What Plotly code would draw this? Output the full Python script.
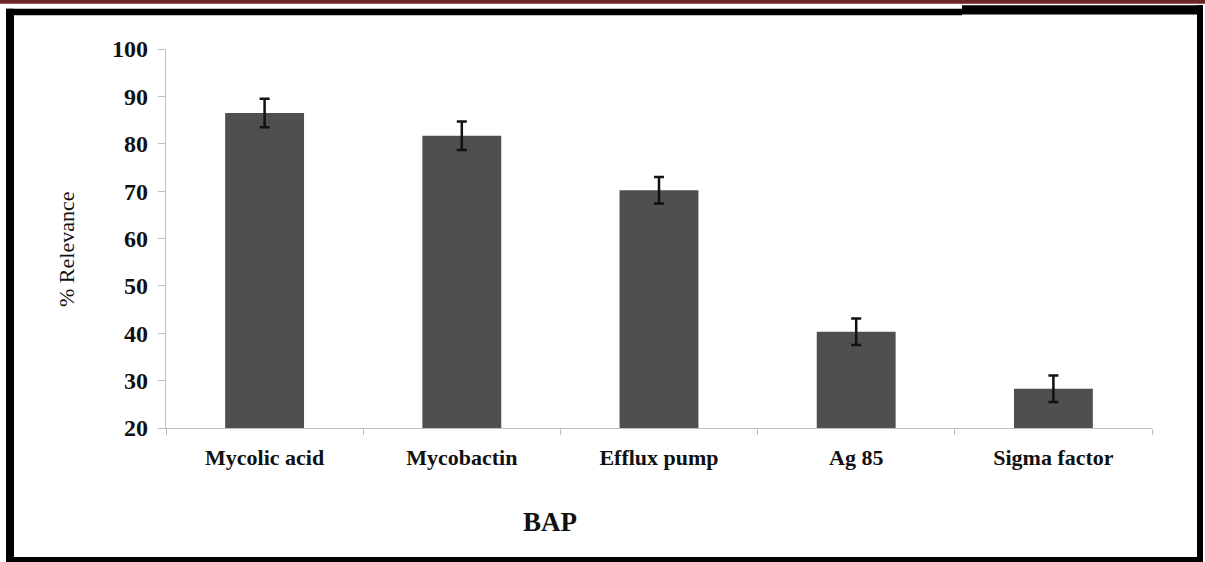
import plotly.graph_objects as go

categories = ["Mycolic acid", "Mycobactin", "Efflux pump", "Ag 85", "Sigma factor"]
relevance = [86.5, 81.7, 70.2, 40.3, 28.3]
errors = [3.0, 3.0, 2.8, 2.8, 2.8]
y_ticks = [20, 30, 40, 50, 60, 70, 80, 90, 100]

W, H = 1205, 562
L, R, T, B = 166, 1152, 49, 428

def px(x):
    return (x - L) / (R - L)

def py(y):
    return (B - y) / (B - T)

FONT = "Liberation Serif"

fig = go.Figure()
fig.add_trace(go.Bar(
    x=categories, y=relevance,
    marker=dict(color="#4f4f4f", line=dict(width=0)),
    error_y=dict(type="data", array=errors, visible=True, color="#111111",
                 thickness=2.5, width=5),
    width=0.4,
))

fig.update_layout(
    width=W, height=H,
    margin=dict(l=L, r=W - R, t=T, b=H - B, pad=0),
    paper_bgcolor="white", plot_bgcolor="white",
    showlegend=False,
    font=dict(family=FONT, color="#111111"),
)
fig.update_yaxes(
    range=[20, 100], tickvals=y_ticks, ticktext=[f"<b>{v}</b>" for v in y_ticks],
    showgrid=False, zeroline=False,
    showline=True, linecolor="#bfbfbf", linewidth=1.2,
    ticks="outside", ticklen=7, tickcolor="#bfbfbf", tickwidth=1,
    tickfont=dict(family=FONT, size=24, color="#111111"),
    ticklabelstandoff=5,
)
fig.update_xaxes(
    ticktext=[f"<b>{c}</b>" for c in categories], tickvals=categories,
    showgrid=False, zeroline=False,
    showline=True, linecolor="#bfbfbf", linewidth=1.2,
    ticks="outside", ticklen=6, tickcolor="#bfbfbf", tickson="boundaries",
    tickfont=dict(family=FONT, size=22, color="#111111"),
    ticklabelstandoff=9,
)

fig.add_annotation(text="% Relevance", x=px(66), y=py(250), xref="paper", yref="paper",
                   xanchor="center", yanchor="middle",
                   showarrow=False, textangle=-90,
                   font=dict(family=FONT, size=22, color="#111111"))
fig.add_annotation(text="<b>BAP</b>", x=px(550), y=py(522), xref="paper", yref="paper",
                   xanchor="center", yanchor="middle",
                   showarrow=False, font=dict(family=FONT, size=27, color="#111111"))

def rect(x0, y0, x1, y1, color):
    fig.add_shape(type="rect", xref="paper", yref="paper",
                  x0=px(x0), x1=px(x1), y0=py(y1), y1=py(y0),
                  fillcolor=color, line=dict(width=0), layer="above")

rect(0, 0, W, 3.8, "#6e2424")
rect(6, 8.7, 962, 15.3, "#000000")
rect(962, 5.3, 1203, 14.5, "#000000")
rect(6, 8.7, 14, H, "#000000")
rect(1197, 5.3, 1203, H, "#000000")
rect(6, 557, 1203, H, "#000000")

fig.write_html("out.html", config={"displayModeBar": False},
               post_script="document.body.style.margin='0';document.body.style.overflow='hidden';")
